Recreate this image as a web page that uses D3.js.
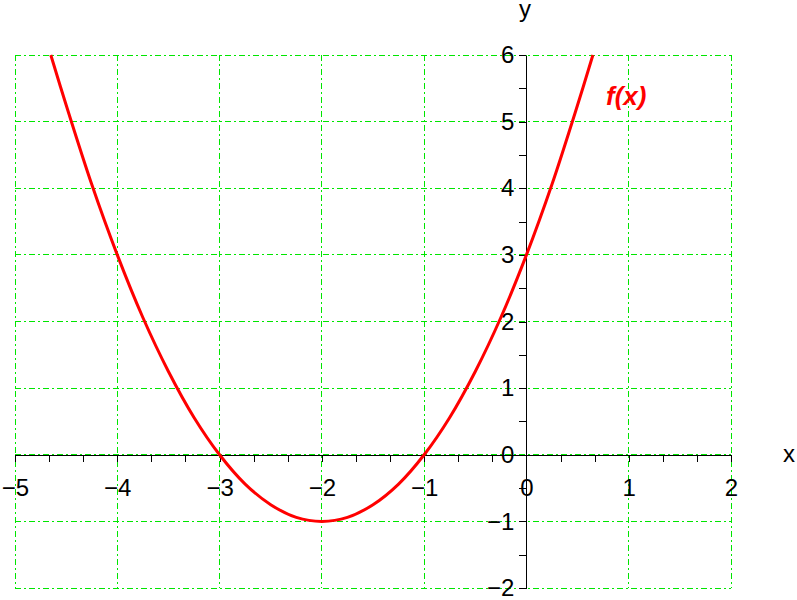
<!DOCTYPE html>
<html><head><meta charset="utf-8">
<script src="https://cdn.jsdelivr.net/npm/d3@7"></script>
<style>
html,body{margin:0;padding:0;background:#fff;}
svg{display:block;}
.axis text{font-family:"Liberation Sans",Arial,sans-serif;font-size:24px;fill:#000;}
.axis path,.axis line{stroke:#000;stroke-width:1;shape-rendering:crispEdges;}
</style>
</head><body>
<svg id="chart" width="797" height="600"></svg>
<script>
// Data
const xTicks = [-5, -4, -3, -2, -1, 0, 1, 2];
const yTicks = [-2, -1, 0, 1, 2, 3, 4, 5, 6];
const curveX = [-4.65, -4.5, -4.25, -4, -3.75, -3.5, -3.25, -3, -2.75, -2.5, -2.25, -2, -1.75, -1.5, -1.25, -1, -0.75, -0.5, -0.25, 0, 0.25, 0.5, 0.65];
const curveY = [6.0, 5.25, 4.06, 3.0, 2.06, 1.25, 0.56, 0.0, -0.44, -0.75, -0.94, -1.0, -0.94, -0.75, -0.44, 0.0, 0.56, 1.25, 2.06, 3.0, 4.06, 5.25, 6.0];
const seriesLabel = "f(x)";

const svg = d3.select("#chart");
const x = d3.scaleLinear().domain([-5, 2]).range([15, 731]);
const y = d3.scaleLinear().domain([-2, 6]).range([588, 55]);

// Grid
const grid = svg.append("g").attr("stroke", "#00e600").attr("stroke-width", 1)
  .attr("stroke-dasharray", "6,3,2,3").attr("shape-rendering", "crispEdges");
grid.selectAll(".gv").data(xTicks).join("line")
  .attr("x1", d => x(d)).attr("x2", d => x(d)).attr("y1", y(6)).attr("y2", y(-2));
grid.selectAll(".gh").data(yTicks).join("line")
  .attr("x1", x(-5)).attr("x2", x(2)).attr("y1", d => y(d)).attr("y2", d => y(d));

// Minor ticks
const xMinor = d3.range(-5, 2.0001, 1/3);
const yMinor = d3.range(-2, 6.0001, 0.5);
svg.append("g").attr("class", "axis").attr("transform", `translate(0,${y(0)})`)
  .call(d3.axisBottom(x).tickValues(xMinor).tickSize(7).tickSizeOuter(0).tickFormat(""));
svg.append("g").attr("class", "axis").attr("transform", `translate(${x(0)},0)`)
  .call(d3.axisLeft(y).tickValues(yMinor).tickSize(7).tickSizeOuter(0).tickFormat(""));

// Major axes
svg.append("g").attr("class", "axis").attr("transform", `translate(0,${y(0)})`)
  .call(d3.axisBottom(x).tickValues(xTicks).tickSize(7).tickSizeOuter(0).tickPadding(17).tickFormat(d3.format("d")));
svg.append("g").attr("class", "axis").attr("transform", `translate(${x(0)},0)`)
  .call(d3.axisLeft(y).tickValues(yTicks).tickSize(7).tickSizeOuter(0).tickPadding(5).tickFormat(d3.format("d")));

// Curve
const pts = curveX.map((d, i) => [d, curveY[i]]);
svg.append("path").datum(pts)
  .attr("fill", "none").attr("stroke", "#ff0000").attr("stroke-width", 3)
  .attr("d", d3.line().x(d => x(d[0])).y(d => y(d[1])).curve(d3.curveCatmullRom));

// Axis titles
svg.append("text").attr("x", 525).attr("y", 17).attr("text-anchor", "middle")
  .attr("font-family", "Liberation Sans, Arial, sans-serif").attr("font-size", 24).text("y");
svg.append("text").attr("x", 789).attr("y", 462).attr("text-anchor", "middle")
  .attr("font-family", "Liberation Sans, Arial, sans-serif").attr("font-size", 24).text("x");

// Series label
svg.append("text").attr("x", 606).attr("y", 105)
  .attr("font-family", "Liberation Sans, Arial, sans-serif").attr("font-size", 26)
  .attr("font-weight", "bold").attr("font-style", "italic").attr("fill", "#ff0000").text(seriesLabel);
</script>
</body></html>
